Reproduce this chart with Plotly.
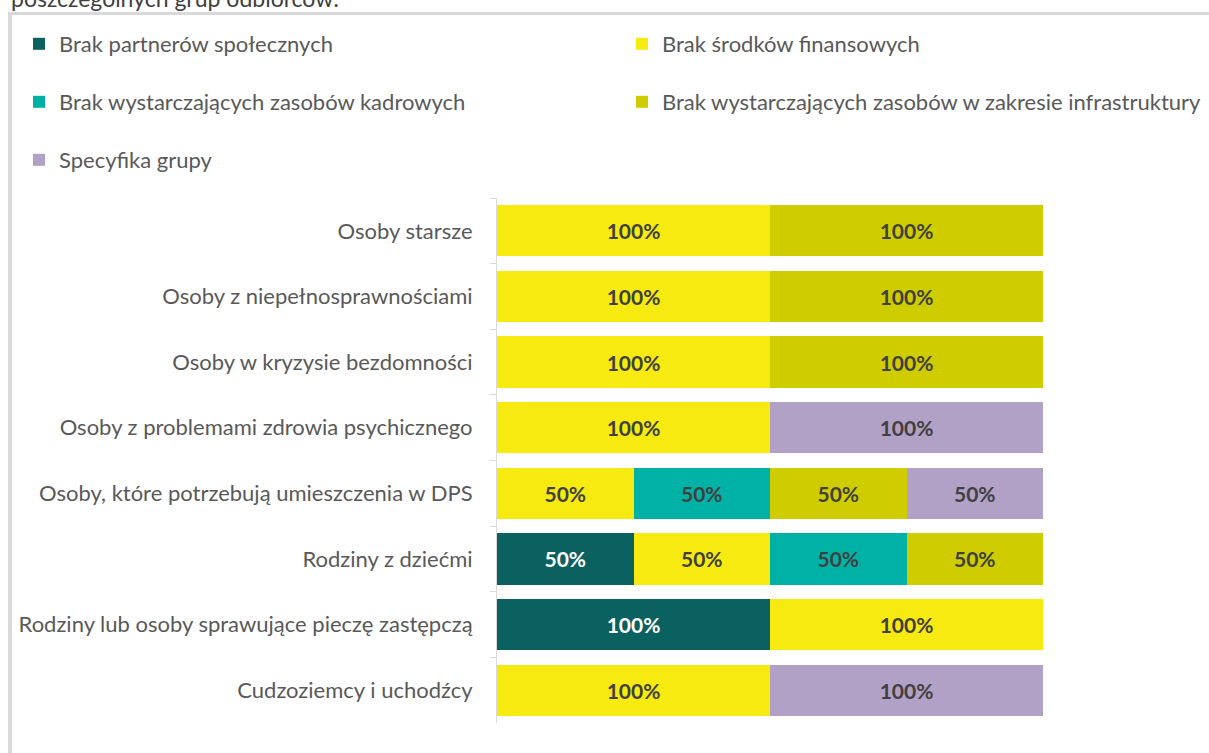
import plotly.graph_objects as go

# Grupy odbiorców (od góry do dołu)
categories = [
    "Osoby starsze",
    "Osoby z niepełnosprawnościami",
    "Osoby w kryzysie bezdomności",
    "Osoby z problemami zdrowia psychicznego",
    "Osoby, które potrzebują umieszczenia w DPS",
    "Rodziny z dziećmi",
    "Rodziny lub osoby sprawujące pieczę zastępczą",
    "Cudzoziemcy i uchodźcy",
]

# Odsetki wskazań dla poszczególnych barier (None = brak wskazań)
partnerzy = [None, None, None, None, None, 50, 100, None]
finanse = [100, 100, 100, 100, 50, 50, 100, 100]
kadry = [None, None, None, None, 50, 50, None, None]
infrastruktura = [100, 100, 100, None, 50, 50, None, None]
specyfika = [None, None, None, 100, 50, None, None, 100]

series_names = [
    "Brak partnerów społecznych",
    "Brak środków finansowych",
    "Brak wystarczających zasobów kadrowych",
    "Brak wystarczających zasobów w zakresie infrastruktury",
    "Specyfika grupy",
]
series_values = [partnerzy, finanse, kadry, infrastruktura, specyfika]
series_colors = ["#0B6060", "#F7EA10", "#00B2A5", "#CFCD00", "#B2A1C7"]
label_colors = ["#FFFFFF", "#404040", "#404040", "#404040", "#404040"]

FONT = "Lato, 'Open Sans', sans-serif"

# Pixel geometry of the page
W, H = 1209, 753
L, R, T, B = 497, 166, 198, 30
PW, PH = W - L - R, H - T - B


def px_x(px):
    return (px - L) / PW


def px_y(py):
    return (H - B - py) / PH


fig = go.Figure()

legend_keys = ["legend", "legend2", "legend3", "legend4", "legend5"]
for name, vals, col, lcol, lk in zip(series_names, series_values, series_colors,
                                     label_colors, legend_keys):
    fig.add_trace(go.Bar(
        y=categories,
        x=vals,
        name=name,
        orientation="h",
        marker=dict(color=col, line=dict(width=0)),
        text=[f"{v}%" if v is not None else "" for v in vals],
        textposition="inside",
        insidetextanchor="middle",
        textangle=0,
        constraintext="none",
        textfont=dict(family=FONT, size=21, color=lcol, weight="bold"),
        legend=lk,
        hoverinfo="skip",
    ))

# Legend entries in two columns, three rows
legend_pos = [(37, 44), (640, 44), (37, 102), (640, 102), (37, 160)]
legend_layout = {}
for lk, (lx, ly) in zip(legend_keys, legend_pos):
    legend_layout[lk] = dict(
        x=px_x(lx - 18), y=px_y(ly), xanchor="left", yanchor="middle",
        orientation="h", bgcolor="rgba(0,0,0,0)",
        font=dict(family=FONT, size=22, color="#595959"),
        itemwidth=30,
    )

fig.update_layout(
    width=W, height=H,
    margin=dict(l=L, r=R, t=T, b=B, pad=0, autoexpand=False),
    paper_bgcolor="white", plot_bgcolor="white",
    barmode="stack",
    bargap=0.22,
    showlegend=True,
    xaxis=dict(range=[0, 200], visible=False, fixedrange=True),
    yaxis=dict(
        autorange="reversed",
        showline=True, linecolor="#D9D9D9", linewidth=1,
        ticks="outside", tickson="boundaries", ticklen=6,
        tickcolor="#D9D9D9", tickwidth=1,
        showgrid=False,
        ticklabelstandoff=19,
        tickfont=dict(family=FONT, size=22, color="#595959"),
    ),
    **legend_layout,
)

# Chart frame (left and top edges)
fig.add_shape(type="line", xref="paper", yref="paper",
              x0=px_x(10), x1=px_x(1215), y0=px_y(13.5), y1=px_y(13.5),
              line=dict(color="#D9D9D9", width=3))
fig.add_shape(type="line", xref="paper", yref="paper",
              x0=px_x(10), x1=px_x(10), y0=px_y(12), y1=px_y(760),
              line=dict(color="#D9D9D9", width=4))

# Heading line above the frame
fig.add_annotation(
    text="poszczególnych grup odbiorców:",
    xref="paper", yref="paper", x=px_x(9), y=px_y(-2),
    xanchor="left", yanchor="middle", showarrow=False,
    font=dict(family=FONT, size=23, color="#404040"),
)

fig.write_html("out.html")
